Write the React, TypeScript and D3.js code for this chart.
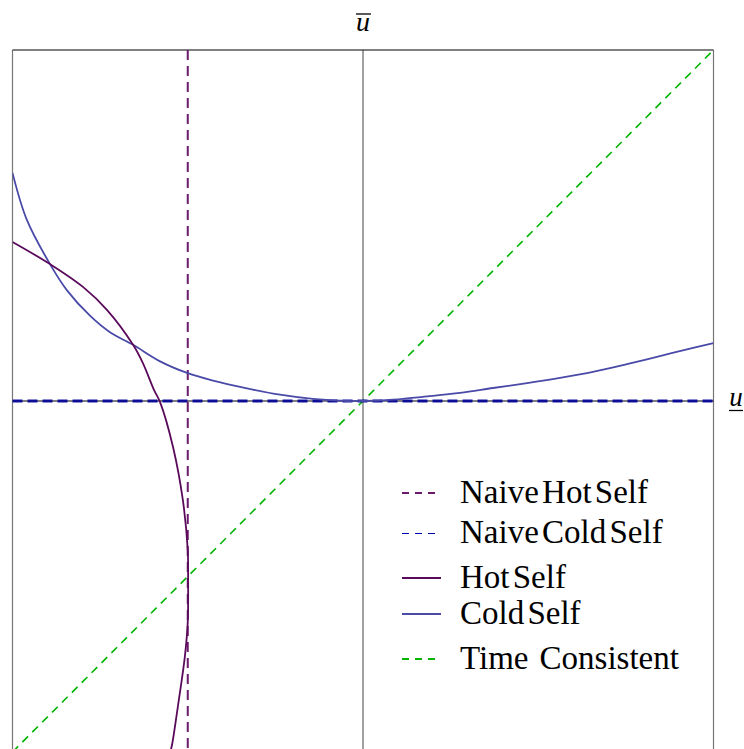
import React from "react";
import * as d3 from "d3";

const coldSelfU = [-1, -0.959, -0.893, -0.845, -0.779, -0.722, -0.656, -0.579, -0.502, -0.428, -0.331, -0.237, -0.143, -0.046, 0, 0.086, 0.183, 0.277, 0.371, 0.468, 0.562, 0.656, 0.753, 0.847, 0.942, 1.0];
const coldSelfV = [0.65, 0.516, 0.39, 0.316, 0.243, 0.196, 0.16, 0.113, 0.08, 0.058, 0.036, 0.018, 0.006, 0.0, 0, 0.004, 0.013, 0.023, 0.037, 0.051, 0.066, 0.083, 0.105, 0.128, 0.151, 0.165];

const hotSelfU = [-1, -0.893, -0.799, -0.73, -0.656, -0.628, -0.596, -0.579, -0.542, -0.514, -0.5, -0.499, -0.5, -0.508, -0.528, -0.545, -0.55];
const hotSelfV = [0.453, 0.39, 0.325, 0.259, 0.16, 0.108, 0.031, -0.003, -0.131, -0.282, -0.425, -0.5, -0.63, -0.726, -0.869, -0.98, -1.0];

const naiveHotU = -0.5;
const naiveColdV = 0;

const legendLabels = ["Naive Hot Self", "Naive Cold Self", "Hot Self", "Cold Self", "Time  Consistent"];
const legendColors = ["#6b1a6b", "#0000b0", "#5a0a5a", "#4a4aa8", "#00b400"];
const legendDashed = [true, true, false, false, true];

export default function App() {
  const W = 744, H = 749;
  const x = d3.scaleLinear().domain([-1, 1]).range([12.5, 713.5]);
  const y = d3.scaleLinear().domain([-1, 1]).range([752, 50]);

  const line = d3.line<[number, number]>().x(d => x(d[0])).y(d => y(d[1])).curve(d3.curveCatmullRom.alpha(0.5));
  const cold = line(coldSelfU.map((u, i) => [u, coldSelfV[i]]) as [number, number][]) || "";
  const hot = line(hotSelfU.map((u, i) => [u, hotSelfV[i]]) as [number, number][]) || "";

  const font = "Liberation Serif";
  const legendY = [493, 533, 578, 614, 659];

  return (
    <svg width={W} height={H} style={{ position: "absolute", left: 0, top: 0, background: "#fff" }}>
      <defs>
        <clipPath id="plot">
          <rect x={x(-1)} y={y(1)} width={x(1) - x(-1)} height={H - y(1)} />
        </clipPath>
      </defs>
      <line x1={x(-1)} x2={x(-1)} y1={y(1)} y2={H} stroke="#777" strokeWidth={1.2} />
      <line x1={x(1)} x2={x(1)} y1={y(1)} y2={H} stroke="#777" strokeWidth={1.2} />
      <line x1={x(0)} x2={x(0)} y1={y(1)} y2={H} stroke="#444" strokeWidth={1} />
      <line x1={x(-1)} x2={x(1)} y1={y(1)} y2={y(1)} stroke="#000" strokeWidth={1} />
      <line x1={x(-1)} x2={x(1)} y1={y(0)} y2={y(0)} stroke="#000" strokeWidth={1} />

      <g clipPath="url(#plot)">
        <line x1={x(-1)} y1={y(-1)} x2={x(1)} y2={y(1)} stroke="#00b400" strokeWidth={1.6} strokeDasharray="8 6" />
        <line x1={x(-1)} x2={x(1)} y1={y(naiveColdV)} y2={y(naiveColdV)} stroke="#00009a" strokeWidth={3} strokeDasharray="10 5" opacity={0.9} />
        <line x1={x(naiveHotU)} x2={x(naiveHotU)} y1={y(1)} y2={H} stroke="#6b1a6b" strokeWidth={2} strokeDasharray="10 6" />
        <path d={cold} fill="none" stroke="#4a4aa8" strokeWidth={1.8} />
        <path d={hot} fill="none" stroke="#5a0a5a" strokeWidth={1.8} />
      </g>

      <text x={x(0)} y={31} fontSize={28} fontStyle="italic" textAnchor="middle" style={{ fontFamily: font }}>u</text>
      <line x1={x(0) - 7} x2={x(0) + 8} y1={14} y2={14} stroke="#000" strokeWidth={1.3} />
      <text x={736} y={406} fontSize={27} fontStyle="italic" textAnchor="middle" style={{ fontFamily: font }}>u</text>
      <line x1={729} x2={743} y1={410.5} y2={410.5} stroke="#000" strokeWidth={1.3} />

      {legendLabels.map((lab, i) => (
        <g key={lab}>
          <line x1={402} x2={441} y1={legendY[i] + (i === 1 ? 0.5 : 0)} y2={legendY[i] + (i === 1 ? 0.5 : 0)} stroke={legendColors[i]} strokeWidth={i === 1 ? 1.2 : 2} strokeDasharray={legendDashed[i] ? "7 6" : undefined} />
          <text x={460} y={legendY[i] + 10} fontSize={33} style={{ fontFamily: font, whiteSpace: "pre", wordSpacing: i === 4 ? "-2.7px" : "-5px" }}>{lab}</text>
        </g>
      ))}
    </svg>
  );
}
